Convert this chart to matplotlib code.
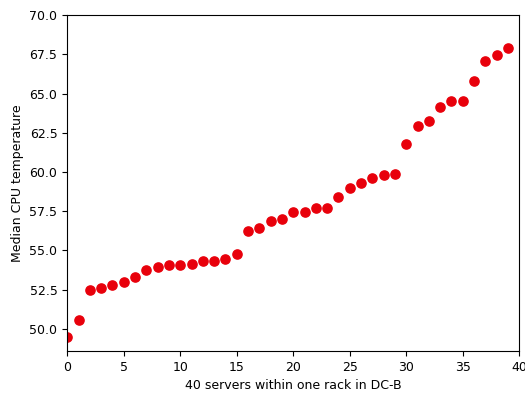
import matplotlib
matplotlib.use("Agg")
import matplotlib.pyplot as plt

servers = list(range(40))
temps = [49.5, 50.55, 52.5, 52.62, 52.8, 52.95, 53.27, 53.75, 53.94, 54.06,
         54.07, 54.1, 54.3, 54.34, 54.48, 54.76, 56.22, 56.42, 56.88, 56.98,
         57.45, 57.47, 57.7, 57.72, 58.4, 58.98, 59.33, 59.6, 59.84, 59.86,
         61.78, 62.92, 63.23, 64.16, 64.52, 64.53, 65.82, 67.1, 67.48, 67.9]

fig = plt.figure(figsize=(5.25, 3.93), dpi=100)
ax = fig.add_axes([0.128, 0.107, 0.861, 0.854])
ax.scatter(servers, temps, color="#e8000b", s=44)
ax.set_xlim(0, 40)
ax.set_ylim(48.58, 70)
ax.set_xlabel("40 servers within one rack in DC-B", fontsize=9)
ax.set_ylabel("Median CPU temperature", fontsize=9)
ax.tick_params(labelsize=9)
fig.savefig("out.png", dpi=100)
